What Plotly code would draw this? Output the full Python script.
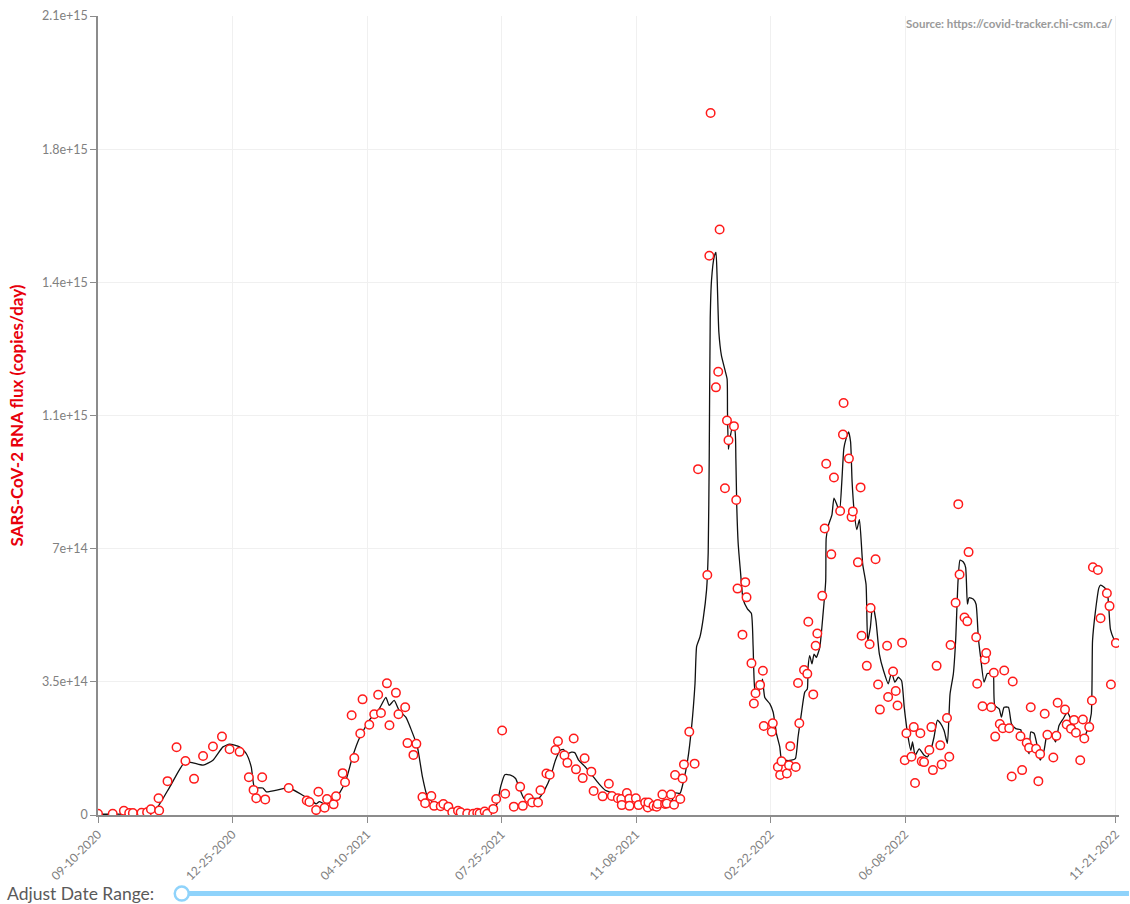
import pandas as pd
import plotly.graph_objects as go

START = "2020-09-10"
# sample days (days since 2020-09-10) and flux values (units of 1e14 copies/day)
pt_day = [0, 11.6, 20.4, 24.6, 27.5, 34.3, 38.7, 41.7, 47.7, 48.2,
54.8, 61.9, 68.9, 75.7, 82.8, 90.6, 97.7, 103.7, 111.6, 118.9,
122.6, 124.7, 129.4, 131.8, 150.3, 164.5, 166.6, 171.9, 173.7, 178.6,
180.5, 185.7, 187.6, 192.8, 194.7, 199.9, 202.0, 206.7, 208.5, 213.8,
217.7, 220.8, 223.0, 227.7, 229.7, 234.8, 236.8, 242.1, 243.9, 248.6,
250.9, 255.7, 257.8, 262.7, 264.9, 270.1, 272.2, 276.1, 279.2, 283.7,
285.8, 291.0, 295.7, 298.9, 300.8, 304.7, 306.7, 311.5, 313.8, 318.5,
320.9, 327.7, 332.7, 334.8, 339.5, 342.1, 346.8, 348.7, 353.4, 356.0,
360.5, 362.5, 367.6, 369.9, 374.9, 376.7, 382.0, 383.5, 388.8, 390.6,
397.7, 402.6, 405.0, 409.7, 412.4, 412.8, 416.8, 418.7, 418.9, 423.9,
426.0, 431.2, 433.3, 433.8, 437.8, 440.3, 441.1, 444.8, 446.9, 448.2,
451.6, 454.0, 454.8, 458.9, 460.7, 461.8, 466.0, 470.2, 472.9, 480.2,
481.8, 482.8, 487.0, 488.8, 489.9, 494.1, 495.7, 496.9, 501.2, 503.0,
504.0, 507.9, 510.1, 511.1, 515.0, 516.9, 518.2, 521.8, 524.0, 524.7,
531.0, 531.8, 535.8, 537.6, 538.7, 542.9, 544.6, 545.6, 549.9, 551.7,
552.7, 556.4, 559.0, 559.8, 563.7, 565.6, 566.9, 570.8, 572.7, 573.9,
577.9, 580.0, 584.9, 587.1, 587.6, 591.8, 593.9, 594.9, 598.9, 601.0,
601.8, 605.9, 608.1, 608.9, 612.8, 614.8, 616.2, 621.9, 622.7, 626.6,
628.7, 630.1, 633.7, 635.8, 637.1, 641.1, 642.9, 643.9, 648.1, 649.2,
651.0, 655.2, 656.8, 658.0, 660.9, 663.8, 664.9, 669.1, 670.9, 671.9,
675.9, 678.0, 679.0, 682.9, 685.1, 686.1, 692.1, 692.9, 697.1, 698.9,
700.0, 703.9, 706.0, 707.1, 710.7, 713.1, 714.2, 718.1, 720.1, 720.9,
727.0, 728.3, 731.9, 733.8, 735.1, 739.3, 741.1, 742.5, 746.1, 748.2,
752.9, 755.3, 756.3, 762.1, 763.4, 766.8, 769.2, 770.7, 774.1, 776.2,
777.3, 781.2, 783.3, 784.1, 788.0, 790.1, 795.1, 797.2, 798.3, 802.2]

pt_val = [0.03, 0.03, 0.11, 0.05, 0.05, 0.06, 0.07, 0.15, 0.44, 0.12,
0.89, 1.78, 1.42, 0.95, 1.55, 1.80, 2.06, 1.73, 1.66, 0.99,
0.66, 0.44, 0.99, 0.41, 0.71, 0.38, 0.34, 0.13, 0.61, 0.19,
0.42, 0.28, 0.49, 1.10, 0.86, 2.62, 1.50, 2.14, 3.04, 2.37,
2.65, 3.16, 2.68, 3.46, 2.36, 3.21, 2.65, 2.83, 1.89, 1.58,
1.87, 0.47, 0.31, 0.50, 0.24, 0.23, 0.29, 0.22, 0.07, 0.11,
0.07, 0.04, 0.03, 0.06, 0.04, 0.09, 0.03, 0.16, 0.42, 2.22,
0.56, 0.22, 0.74, 0.24, 0.44, 0.33, 0.33, 0.65, 1.09, 1.06,
1.71, 1.94, 1.57, 1.37, 2.01, 1.20, 0.97, 1.49, 1.14, 0.63,
0.49, 0.82, 0.50, 0.44, 0.42, 0.26, 0.58, 0.43, 0.24, 0.44,
0.26, 0.33, 0.20, 0.33, 0.24, 0.22, 0.29, 0.54, 0.29, 0.30,
0.54, 0.27, 1.05, 0.42, 0.96, 1.33, 2.19, 1.35, 9.09, 6.31,
14.70, 18.45, 11.24, 11.65, 15.39, 8.59, 10.37, 9.85, 10.22, 8.28,
5.95, 4.74, 6.12, 5.72, 3.99, 2.93, 3.20, 3.42, 3.79, 2.34,
2.19, 2.41, 1.26, 1.05, 1.41, 1.09, 1.31, 1.81, 1.26, 3.47,
2.41, 3.81, 3.71, 5.08, 3.17, 4.45, 4.77, 5.76, 7.53, 9.23,
6.85, 8.87, 7.99, 10.00, 10.83, 9.37, 7.83, 7.98, 6.64, 8.61,
4.71, 3.92, 4.49, 5.44, 6.72, 3.43, 2.77, 4.45, 3.10, 3.77,
3.26, 2.88, 4.53, 1.44, 2.15, 1.53, 2.31, 0.84, 2.15, 1.41,
1.39, 1.71, 2.31, 1.18, 3.92, 1.83, 1.33, 2.55, 1.53, 4.47,
5.58, 8.17, 6.32, 5.19, 5.09, 6.91, 4.67, 3.45, 2.86, 4.09,
4.26, 2.83, 3.74, 2.06, 2.39, 2.28, 3.80, 2.28, 1.01, 3.51,
2.07, 1.18, 1.90, 1.77, 2.83, 1.74, 0.89, 1.60, 2.66, 2.11,
1.51, 2.08, 2.95, 2.77, 2.38, 2.27, 2.50, 2.16, 1.44, 2.51,
2.01, 2.31, 3.01, 6.51, 6.44, 5.17, 5.83, 5.49, 3.43, 4.52]

# smoothed trend line (days since start, units of 1e14)
ln_day = [0, 40.9, 47.2, 56.6, 68.4, 74.9, 82.8, 90.6, 98.5, 103.7,
111.6, 116.9, 120.8, 123.4, 129.9, 132.6, 150.3, 161.3, 169.2, 171.9,
174.5, 178.4, 184.9, 190.2, 195.5, 200.6, 205.9, 213.8, 221.6, 226.9,
229.5, 233.4, 237.3, 242.6, 246.5, 251.7, 255.7, 259.6, 263.5, 271.4,
276.6, 279.2, 289.8, 300.2, 310.7, 314.6, 317.3, 320.6, 325.1, 329.1,
331.7, 335.6, 338.2, 342.1, 347.4, 352.6, 356.6, 360.5, 364.4, 367.0,
369.6, 373.1, 375.7, 378.8, 384.1, 389.3, 394.5, 399.8, 405.0, 410.2,
418.1, 426.0, 436.4, 446.9, 452.2, 454.8, 458.7, 461.3, 464.7, 467.8,
470.5, 471.8, 474.4, 477.0, 479.6, 480.9, 481.7, 482.5, 483.5, 485.6,
487.0, 488.0, 489.3, 491.3, 494.0, 495.8, 496.1, 496.8, 497.9, 499.8,
501.9, 502.7, 503.4, 504.5, 506.3, 508.4, 511.8, 514.9, 516.3, 517.6,
519.5, 522.4, 523.7, 525.5, 529.5, 532.1, 534.7, 537.3, 538.6, 541.3,
546.5, 549.6, 551.7, 554.3, 557.0, 559.0, 559.6, 560.9, 562.7, 564.3,
566.1, 568.8, 571.4, 573.5, 573.9, 575.8, 578.4, 580.0, 581.8, 584.4,
586.2, 587.8, 589.6, 591.5, 593.1, 594.3, 596.2, 598.0, 600.1, 602.7,
605.3, 606.6, 608.7, 610.5, 613.1, 615.8, 619.1, 622.8, 625.4, 628.0,
630.7, 633.3, 635.4, 638.0, 640.6, 641.9, 644.0, 647.2, 651.1, 653.7,
656.3, 658.9, 661.5, 664.1, 666.8, 669.4, 671.5, 674.1, 675.9, 677.8,
679.4, 682.0, 683.8, 685.2, 686.5, 689.9, 692.0, 693.8, 695.6, 698.3,
700.9, 704.1, 705.6, 706.7, 710.2, 712.0, 714.1, 717.5, 719.9, 723.3,
727.2, 728.5, 731.1, 733.8, 735.1, 737.7, 739.8, 742.5, 745.6, 748.2,
752.1, 754.7, 757.4, 760.7, 763.9, 767.8, 771.8, 776.5, 779.6, 782.8,
783.8, 786.1, 788.8, 790.1, 792.7, 795.3, 796.6, 797.9, 800.6, 802.2]

ln_val = [0.02, 0.06, 0.22, 0.74, 1.39, 1.37, 1.31, 1.44, 1.79, 1.86,
1.79, 1.61, 1.26, 0.72, 0.71, 0.61, 0.71, 0.52, 0.35, 0.29,
0.35, 0.29, 0.35, 0.57, 0.92, 1.53, 2.01, 2.49, 2.79, 3.09,
2.88, 3.01, 2.75, 2.57, 2.27, 1.79, 1.00, 0.48, 0.35, 0.29,
0.22, 0.09, 0.04, 0.04, 0.07, 0.31, 0.74, 1.06, 1.05, 0.96,
0.74, 0.44, 0.41, 0.44, 0.44, 0.70, 1.00, 1.44, 1.70, 1.72,
1.61, 1.65, 1.64, 1.44, 1.26, 1.05, 0.83, 0.65, 0.58, 0.48,
0.39, 0.35, 0.35, 0.37, 0.37, 0.58, 0.57, 0.87, 1.44, 2.31,
3.45, 4.43, 4.68, 5.17, 5.91, 6.90, 9.37, 13.06, 14.05, 14.67,
14.79, 14.05, 12.69, 12.08, 11.71, 11.46, 10.60, 9.61, 9.86, 10.17,
10.11, 9.37, 8.13, 7.15, 6.41, 5.67, 5.42, 5.30, 4.43, 3.32,
3.20, 3.39, 3.57, 3.09, 2.92, 2.70, 2.14, 1.79, 1.48, 1.44,
1.44, 1.48, 2.05, 2.66, 3.23, 3.31, 3.88, 4.19, 3.97, 4.23,
4.14, 4.40, 5.28, 6.15, 7.28, 7.63, 7.89, 8.33, 8.20, 7.98,
8.76, 9.63, 9.90, 10.07, 9.81, 8.76, 7.89, 7.50, 7.76, 6.58,
6.06, 4.58, 4.93, 5.54, 5.10, 4.23, 3.79, 3.45, 3.75, 3.49,
3.62, 3.53, 2.83, 2.14, 1.70, 1.92, 1.57, 1.74, 1.57, 1.53,
1.70, 2.05, 2.49, 2.40, 2.22, 1.88, 3.18, 3.71, 4.58, 6.15,
6.70, 6.65, 6.50, 5.54, 5.71, 5.67, 5.54, 4.66, 4.14, 3.49,
3.72, 3.72, 3.79, 2.88, 2.79, 2.57, 2.83, 2.83, 2.40, 2.27,
2.24, 2.05, 1.83, 1.61, 2.18, 2.15, 1.88, 1.44, 1.70, 2.14,
2.09, 1.92, 2.35, 2.53, 2.70, 2.44, 2.18, 2.01, 2.22, 2.66,
4.58, 5.36, 5.97, 6.04, 5.99, 5.89, 5.45, 4.88, 4.62, 4.52]

tick_day = [0, 106, 212, 318, 424, 530, 636, 802]
y_tickvals = [0, 3.5e14, 7e14, 1.05e15, 1.4e15, 1.75e15, 2.1e15]
y_ticktext = ["0", "3.5e+14", "7e+14", "1.1e+15", "1.4e+15", "1.8e+15", "2.1e+15"]

UNIT = 1e14
start = pd.Timestamp(START)
pt_x = start + pd.to_timedelta(pt_day, unit="D")
ln_x = start + pd.to_timedelta(ln_day, unit="D")
pt_y = [v * UNIT for v in pt_val]
ln_y = [v * UNIT for v in ln_val]
tick_x = start + pd.to_timedelta(tick_day, unit="D")

W, H = 1130, 904
ML, MR, MT, MB = 98, 8, 12, 89
PW, PH = W - ML - MR, H - MT - MB

def px(xp):
    return (xp - ML) / PW

def py(yp):
    return (H - MB - yp) / PH

x_end = start + pd.to_timedelta(PW / 1.2726, unit="D")

FONT = "Lato, 'Open Sans', sans-serif"
fig = go.Figure()
fig.add_trace(go.Scatter(x=ln_x, y=ln_y, mode="lines",
                         line=dict(color="#111111", width=1.3, shape="spline", smoothing=0.5),
                         hoverinfo="skip", showlegend=False))
fig.add_trace(go.Scatter(x=pt_x, y=pt_y, mode="markers",
                         marker=dict(symbol="circle", size=8.5, color="white",
                                     line=dict(color="#ff1a1a", width=1.5)),
                         showlegend=False))

fig.update_layout(
    width=W, height=H,
    margin=dict(l=ML, r=MR, t=MT, b=MB),
    paper_bgcolor="white", plot_bgcolor="white",
    font=dict(family=FONT, color="#7f7f7f"),
    xaxis=dict(type="date", range=[start, x_end], tickvals=tick_x,
               ticktext=[d.strftime("%m-%d-%Y") for d in tick_x],
               tickangle=-45, tickfont=dict(size=12, color="#808080"),
               showgrid=True, gridcolor="#f0f0f0", gridwidth=1,
               showline=True, linecolor="#8c8c8c", linewidth=1.5,
               ticks="outside", ticklen=6, tickcolor="#8c8c8c", zeroline=False),
    yaxis=dict(range=[0, 2.1e15], tickvals=y_tickvals, ticktext=y_ticktext,
               tickfont=dict(size=12.5, color="#808080"),
               showgrid=True, gridcolor="#f0f0f0", gridwidth=1,
               showline=True, linecolor="#8c8c8c", linewidth=1.5,
               ticks="outside", ticklen=6, tickcolor="#8c8c8c", zeroline=False,
               title=dict(text="<b>SARS-CoV-2 RNA flux (copies/day)</b>",
                          font=dict(size=17, color="#e8000b", family=FONT), standoff=14)),
)

fig.add_annotation(text="<b>Source: https://covid-tracker.chi-csm.ca/</b>",
                   xref="paper", yref="paper", x=px(1118), y=py(20),
                   xanchor="right", yanchor="middle", showarrow=False,
                   font=dict(size=11.5, color="#9a9a9a", family=FONT))

# date range control look-alike
fig.add_annotation(text="Adjust Date Range:", xref="paper", yref="paper",
                   x=px(5), y=py(894), xanchor="left", yanchor="middle", showarrow=False,
                   font=dict(size=17.5, color="#5a5a5a", family=FONT))
fig.add_shape(type="line", xref="paper", yref="paper", x0=px(182), x1=px(1132),
              y0=py(894), y1=py(894), line=dict(color="#8fd3fb", width=5))
fig.add_shape(type="circle", xref="paper", yref="paper", xsizemode="pixel", ysizemode="pixel",
              xanchor=px(182), yanchor=py(894), x0=-7, x1=7, y0=-7, y1=7,
              fillcolor="white", line=dict(color="#8fd3fb", width=2.5))

fig.write_html("out.html", config={"displayModeBar": False},
               post_script="document.body.style.margin='0';document.body.style.overflow='hidden';")
